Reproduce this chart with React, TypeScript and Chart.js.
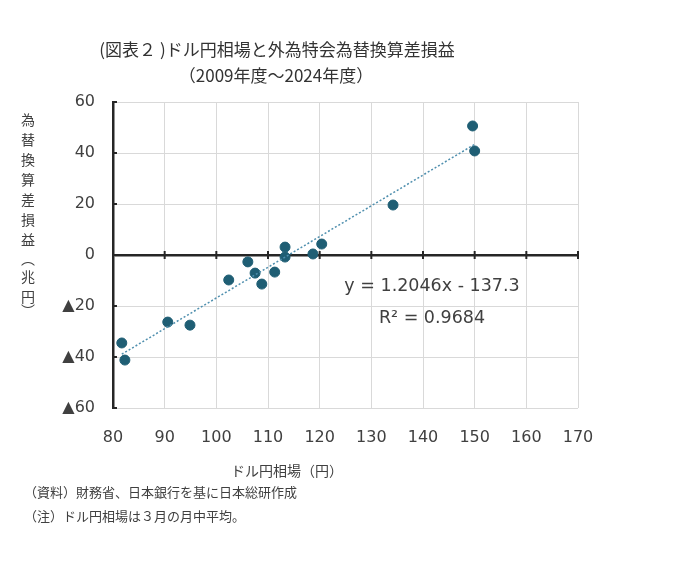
import { useEffect, useRef } from 'react';
import Chart from 'chart.js/auto';

// ドル円相場（円）, 2009〜2024年度
const usdJpy = [81.7, 82.3, 90.6, 94.9, 102.4, 106.1, 107.5, 108.8, 111.3, 113.3, 113.3, 118.7, 120.4, 134.2, 149.6, 150.0];
// 為替換算差損益（兆円）
const fxGainLoss = [-34.5, -41.2, -26.3, -27.5, -9.8, -2.7, -7.1, -11.4, -6.7, 3.1, -0.8, 0.4, 4.3, 19.6, 50.6, 40.8];
// 近似直線の両端
const trendX = [81.7, 150.0];
const trendY = [-38.9, 43.4];

const titleLines = ['(図表２ )ドル円相場と外為特会為替換算差損益', '（2009年度～2024年度）'];
const yTitle = ['為', '替', '換', '算', '差', '損', '益', '︵', '兆', '円', '︶'];
const xTitle = 'ドル円相場（円）';
const notes = ['（資料）財務省、日本銀行を基に日本総研作成', '（注）ドル円相場は３月の月中平均。'];
const equation = ['y = 1.2046x - 137.3', 'R² = 0.9684'];

const FONT = '"Noto Sans CJK JP", "Noto Sans", sans-serif';
const NUM_FONT = '"DejaVu Sans", "Noto Sans CJK JP", sans-serif';
const DOT = '#1f5e74';

const textPlugin = {
    id: 'texts',
    afterDraw(chart: any) {
        const ctx = chart.ctx;
        const x = chart.scales.x;
        const y = chart.scales.y;
        const y0 = y.getPixelForValue(0);
        ctx.save();

        // tick marks on the zero line and the left axis
        ctx.strokeStyle = '#262626';
        ctx.lineWidth = 2;
        x.ticks.forEach((t: any) => {
            const px = x.getPixelForValue(t.value);
            ctx.beginPath();
            ctx.moveTo(px, y0 - 4);
            ctx.lineTo(px, y0 + 4);
            ctx.stroke();
        });
        y.ticks.forEach((t: any) => {
            const py = y.getPixelForValue(t.value);
            ctx.beginPath();
            ctx.moveTo(chart.chartArea.left, py);
            ctx.lineTo(chart.chartArea.left + 4, py);
            ctx.stroke();
        });

        ctx.fillStyle = '#333333';
        ctx.textBaseline = 'middle';

        ctx.textAlign = 'center';
        ctx.font = `17px ${FONT}`;
        ctx.fillText(titleLines[0], 277, 50);
        ctx.fillText(titleLines[1], 276, 76);

        ctx.fillStyle = '#404040';
        ctx.font = `14px ${FONT}`;
        ctx.fillText(xTitle, 287, 471);

        const yPos = [120, 140, 160, 180, 200, 220, 240, 259, 277, 297, 311];
        ctx.font = `14px ${FONT}`;
        yTitle.forEach((c, i) => ctx.fillText(c, 28, yPos[i]));

        ctx.font = `17.5px ${NUM_FONT}`;
        ctx.fillText(equation[0], 432, 286);
        ctx.fillText(equation[1], 432, 318);

        ctx.textAlign = 'left';
        ctx.font = `13px ${FONT}`;
        ctx.fillText(notes[0], 24, 492);
        ctx.fillText(notes[1], 24, 516);

        ctx.restore();
    },
};

const App = () => {
    const chartRef = useRef<HTMLCanvasElement>(null);

    useEffect(() => {
        document.body.style.margin = '0';
        if (!chartRef.current) return;
        const ctx = chartRef.current.getContext('2d');
        if (!ctx) return;

        const chart = new Chart(ctx, {
            type: 'scatter',
            data: {
                datasets: [
                    {
                        type: 'line',
                        data: trendX.map((v, i) => ({ x: v, y: trendY[i] })),
                        borderColor: '#4f8fae',
                        borderWidth: 1.5,
                        borderDash: [2, 2],
                        pointRadius: 0,
                        fill: false,
                    },
                    {
                        data: usdJpy.map((v, i) => ({ x: v, y: fxGainLoss[i] })),
                        backgroundColor: DOT,
                        borderColor: DOT,
                        pointRadius: 5,
                    },
                ],
            },
            options: {
                responsive: false,
                animation: false,
                layout: { padding: { left: 0, right: 102, top: 102, bottom: 0 } },
                plugins: {
                    legend: { display: false },
                    tooltip: { enabled: false },
                },
                scales: {
                    x: {
                        type: 'linear',
                        min: 80,
                        max: 170,
                        afterFit: (s: any) => { s.height = 153; },
                        ticks: { stepSize: 10, padding: 20, color: '#404040', font: { family: NUM_FONT, size: 16 } },
                        grid: { color: '#d9d9d9', drawTicks: false },
                        border: { display: false },
                    },
                    y: {
                        min: -60,
                        max: 60,
                        afterFit: (s: any) => { s.width = 113; },
                        ticks: {
                            stepSize: 20,
                            padding: 18,
                            color: '#404040',
                            font: { family: NUM_FONT, size: 16 },
                            callback: (v: any) => (v < 0 ? '▲' + Math.abs(v) : String(v)),
                        },
                        grid: {
                            drawTicks: false,
                            color: (c: any) => (c.tick && c.tick.value === 0 ? '#262626' : '#d9d9d9'),
                            lineWidth: (c: any) => (c.tick && c.tick.value === 0 ? 2.5 : 1),
                        },
                        border: { color: '#262626', width: 2.5 },
                    },
                },
            },
            plugins: [textPlugin],
        });

        return () => {
            chart.destroy();
        };
    }, []);

    return (
        <div style={{ width: 680, height: 561, background: '#fff' }}>
            <canvas ref={chartRef} width={680} height={561} />
        </div>
    );
};

export default App;
